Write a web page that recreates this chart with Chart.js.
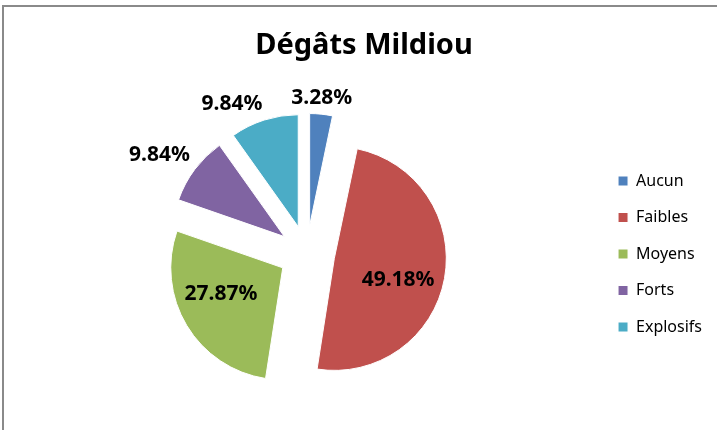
<!DOCTYPE html>
<html>
<head>
<meta charset="utf-8">
<script src="https://cdn.jsdelivr.net/npm/chart.js@4.4.1/dist/chart.umd.min.js"></script>
<style>
  body { margin: 0; background: #fff; }
</style>
</head>
<body>
<canvas id="mildiou" width="717" height="430"></canvas>
<script>
// values (percent of plots)
const categories = ['Aucun', 'Faibles', 'Moyens', 'Forts', 'Explosifs'];
const percents = [3.28, 49.18, 27.87, 9.84, 9.84];
const sliceColors = ['#4F81BD', '#C0504D', '#9BBB59', '#8064A2', '#4BACC6'];

const EXPLODE = 28;   // pull-out of each slice, px
const FONT = '"Noto Sans", "DejaVu Sans", sans-serif';

// chart.js's own "offset" also grows thin slices, so push the slices
// out ourselves around the library's arc drawing instead
const baseArcDraw = Chart.ArcElement.prototype.draw;
const explode = {
    id: 'explode',
    afterUpdate(chart) {
        chart.getDatasetMeta(0).data.forEach(arc => {
            arc.draw = function (ctx, area) {
                const mid = (this.startAngle + this.endAngle) / 2;
                ctx.save();
                ctx.translate(Math.cos(mid) * EXPLODE, Math.sin(mid) * EXPLODE);
                baseArcDraw.call(this, ctx, area);
                ctx.restore();
            };
        });
    }
};

const frame = {
    id: 'frame',
    beforeDraw(chart) {
        const ctx = chart.ctx;
        ctx.save();
        ctx.fillStyle = '#8a8a8a';
        ctx.fillRect(2, 5, chart.width, 2);
        ctx.fillRect(2, 5, 2, chart.height);
        ctx.restore();
    }
};

// percent labels: big slices inside, small ones just outside the rim
const pieLabels = {
    id: 'pieLabels',
    afterDatasetsDraw(chart) {
        const ctx = chart.ctx;
        const meta = chart.getDatasetMeta(0);
        ctx.save();
        ctx.font = 'bold 21px ' + FONT;
        ctx.fillStyle = '#000';
        meta.data.forEach((arc, i) => {
            const p = arc.getProps(['x', 'y', 'startAngle', 'endAngle', 'outerRadius']);
            const mid = (p.startAngle + p.endAngle) / 2;
            const cos = Math.cos(mid), sin = Math.sin(mid);
            const vx = p.x + cos * EXPLODE, vy = p.y + sin * EXPLODE;
            const text = percents[i].toFixed(2) + '%';
            if (percents[i] >= 20) {
                const a = mid + 8 * Math.PI / 180;   // excel nudges these round a little
                ctx.textAlign = 'center';
                ctx.textBaseline = 'middle';
                ctx.fillText(text, vx + Math.cos(a) * p.outerRadius * 0.6, vy + Math.sin(a) * p.outerRadius * 0.6);
            } else {
                const d = p.outerRadius + 6;
                ctx.textAlign = cos > 0.2 ? 'left' : (cos < -0.2 ? 'right' : 'center');
                ctx.textBaseline = sin < -0.2 ? 'bottom' : (sin > 0.2 ? 'top' : 'middle');
                ctx.fillText(text, vx + cos * d, vy + sin * d);
            }
        });
        ctx.restore();
    }
};

new Chart(document.getElementById('mildiou'), {
    type: 'pie',
    data: {
        labels: categories,
        datasets: [{
            data: percents,
            backgroundColor: sliceColors,
            borderColor: '#fff',
            borderWidth: 1,
            radius: 112
        }]
    },
    options: {
        responsive: false,
        animation: false,
        layout: { padding: { left: 16, right: 5, top: 0, bottom: 0 } },
        plugins: {
            title: {
                display: true,
                text: 'Dégâts Mildiou',
                color: '#000',
                font: { family: FONT, size: 29, weight: 'bold', lineHeight: 1.2 },
                padding: { top: 28, bottom: 14 }
            },
            legend: {
                position: 'right',
                title: { display: true, text: '', font: { size: 10, lineHeight: 1 }, padding: { top: 68, bottom: 0 } },
                labels: {
                    color: '#000',
                    font: { family: FONT, size: 16 },
                    boxWidth: 10,
                    boxHeight: 10,
                    padding: 20.5
                }
            },
            tooltip: { enabled: false }
        }
    },
    plugins: [explode, frame, pieLabels]
});
</script>
</body>
</html>
